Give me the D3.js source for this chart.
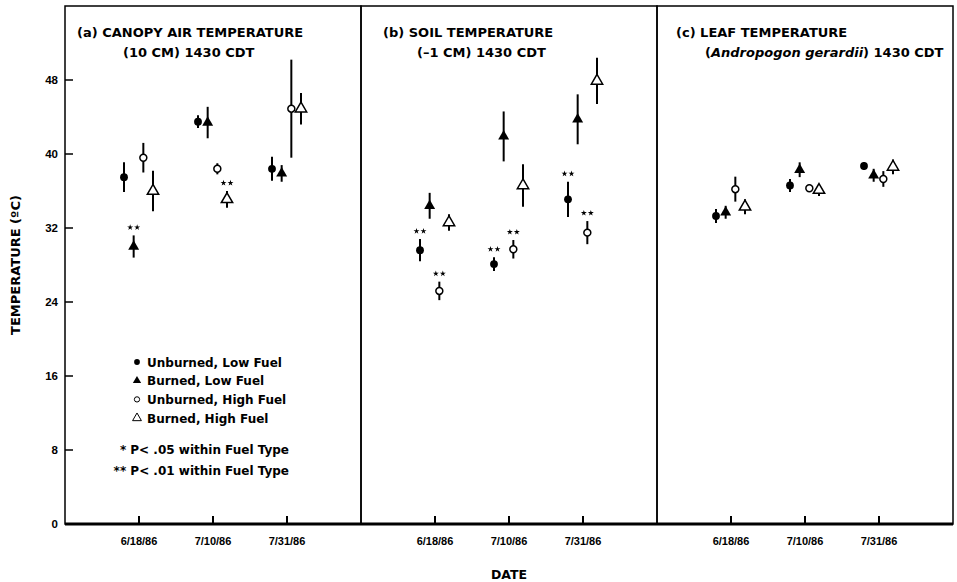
<!DOCTYPE html>
<meta charset="utf-8">
<style>

body {
  margin: 0;
  background: #fff;
}

text {
  font-family: "DejaVu Sans", sans-serif;
  font-weight: bold;
  fill: #000;
}

.tick-label {
  font-family: "Liberation Sans", Arial, sans-serif;
  font-size: 11px;
}

.frame {
  fill: none;
  stroke: #000;
  stroke-width: 1.5px;
}

.err {
  stroke: #000;
  stroke-width: 2px;
}

</style>
<svg width="957" height="582"></svg>
<script src="https://d3js.org/d3.v7.min.js"></script>
<script>

var dates = ["6/18/86", "7/10/86", "7/31/86"];
var series = ["Unburned, Low Fuel", "Burned, Low Fuel", "Unburned, High Fuel", "Burned, High Fuel"];
var yTicks = [0, 8, 16, 24, 32, 40, 48];

// means and error half-widths, one row per series, one column per date
var canopyMean = [[37.5, 43.5, 38.4], [30.0, 43.4, 37.9], [39.6, 38.4, 44.9], [36.0, 35.1, 44.9]];
var canopyErr  = [[1.6, 0.7, 1.3], [1.2, 1.7, 0.9], [1.6, 0.6, 5.3], [2.2, 0.9, 1.7]];
var soilMean   = [[29.6, 28.1, 35.1], [34.4, 41.9, 43.75], [25.2, 29.7, 31.5], [32.6, 36.6, 47.9]];
var soilErr    = [[1.2, 0.75, 1.9], [1.4, 2.7, 2.7], [1.0, 1.0, 1.25], [0.9, 2.3, 2.5]];
var leafMean   = [[33.3, 36.6, 38.7], [33.7, 38.3, 37.7], [36.2, 36.3, 37.3], [34.3, 36.1, 38.6]];
var leafErr    = [[0.75, 0.7, 0.4], [0.7, 0.8, 0.7], [1.35, 0.4, 0.85], [0.8, 0.65, 0.8]];

// [series, date] pairs marked ** (P < .01)
var canopySig = [[1, 0], [3, 1]];
var soilSig   = [[0, 0], [2, 0], [0, 1], [2, 1], [0, 2], [2, 2]];
var leafSig   = [];

var panels = [
  {title: ["(a) CANOPY AIR TEMPERATURE", "(10 CM) 1430 CDT"], mean: canopyMean, err: canopyErr, sig: canopySig},
  {title: ["(b) SOIL TEMPERATURE", "(\u20131 CM) 1430 CDT"], mean: soilMean, err: soilErr, sig: soilSig},
  {title: ["(c) LEAF TEMPERATURE", null], mean: leafMean, err: leafErr, sig: leafSig}
];
var titleIndent = [[12, 58], [22, 56], [19, 48]];

var svg = d3.select("svg"),
    x0 = 65,
    pw = 296,
    yTop = 6,
    yBottom = 524;

var y = d3.scaleLinear().domain([0, 56]).range([yBottom, yTop]);
var x = d3.scaleLinear().domain([0, 4]).range([0, pw]);
var offset = d3.scalePoint().domain(d3.range(series.length)).range([-15, 14]);

var filledCircle = d3.symbol().type(d3.symbolCircle).size(48),
    filledTri = d3.symbol().type(d3.symbolTriangle).size(52),
    openCircle = d3.symbol().type(d3.symbolCircle).size(38),
    openTri = d3.symbol().type(d3.symbolTriangle).size(56);
var shapes = [filledCircle, filledTri, openCircle, openTri];
var filled = [true, true, false, false];
var star = d3.symbol().type(d3.symbolStar).size(11);

panels.forEach(function(p, i) {
  var g = svg.append("g").attr("transform", "translate(" + (x0 + i * pw) + ",0)");

  g.append("rect")
      .attr("class", "frame")
      .attr("x", 0)
      .attr("y", yTop)
      .attr("width", pw)
      .attr("height", yBottom - yTop);

  // date ticks point up from the baseline
  g.selectAll(".xtick")
    .data(dates)
    .enter().append("line")
      .attr("x1", function(d, j) { return x(j + 1); })
      .attr("x2", function(d, j) { return x(j + 1); })
      .attr("y1", yBottom)
      .attr("y2", yBottom - 8)
      .attr("stroke", "#000")
      .attr("stroke-width", 2);

  g.selectAll(".xlab")
    .data(dates)
    .enter().append("text")
      .attr("class", "tick-label")
      .attr("x", function(d, j) { return x(j + 1); })
      .attr("y", 545)
      .attr("text-anchor", "middle")
      .text(function(d) { return d; });

  g.append("text")
      .attr("x", titleIndent[i][0])
      .attr("y", 37)
      .style("font-size", "13px")
      .text(p.title[0]);

  var t2 = g.append("text")
      .attr("x", titleIndent[i][1])
      .attr("y", 57)
      .style("font-size", "13px");
  if (p.title[1]) {
    t2.text(p.title[1]);
  } else {
    t2.append("tspan").text("(");
    t2.append("tspan").style("font-style", "italic").text("Andropogon gerardii");
    t2.append("tspan").text(") 1430 CDT");
  }

  var pts = [];
  p.mean.forEach(function(row, s) {
    row.forEach(function(v, j) {
      pts.push({s: s, d: j, v: v, e: p.err[s][j]});
    });
  });

  function px(d) { return x(d.d + 1) + offset(d.s); }

  g.selectAll(".err")
    .data(pts)
    .enter().append("line")
      .attr("class", "err")
      .attr("x1", px)
      .attr("x2", px)
      .attr("y1", function(d) { return y(d.v - d.e); })
      .attr("y2", function(d) { return y(d.v + d.e); });

  g.selectAll(".pt")
    .data(pts)
    .enter().append("path")
      .attr("transform", function(d) { return "translate(" + px(d) + "," + y(d.v) + ")"; })
      .attr("d", function(d) { return shapes[d.s](); })
      .attr("fill", function(d) { return filled[d.s] ? "#000" : "#fff"; })
      .attr("stroke", "#000")
      .attr("stroke-width", function(d) { return filled[d.s] ? 0 : 1.5; });

  // "**" marks sit just above the upper end of the error bar
  p.sig.forEach(function(d) {
    var sx = x(d[1] + 1) + offset(d[0]),
        sy = y(p.mean[d[0]][d[1]] + p.err[d[0]][d[1]]) - 8;
    [-3.5, 3.5].forEach(function(dx) {
      g.append("path")
          .attr("transform", "translate(" + (sx + dx) + "," + sy + ")")
          .attr("d", star())
          .attr("fill", "#000");
    });
  });
});

// thick baseline across all panels
svg.append("line")
    .attr("x1", x0)
    .attr("x2", x0 + 3 * pw)
    .attr("y1", yBottom)
    .attr("y2", yBottom)
    .attr("stroke", "#000")
    .attr("stroke-width", 3);

// temperature axis, ticks point inward
var gy = svg.append("g");
gy.selectAll("line")
  .data(yTicks.slice(1))
  .enter().append("line")
    .attr("x1", x0)
    .attr("x2", x0 + 8)
    .attr("y1", y)
    .attr("y2", y)
    .attr("stroke", "#000")
    .attr("stroke-width", 1.5);
gy.selectAll("text")
  .data(yTicks)
  .enter().append("text")
    .attr("class", "tick-label")
    .attr("x", 58)
    .attr("y", function(d) { return y(d) + 4; })
    .attr("text-anchor", "end")
    .style("font-size", "11.5px")
    .text(function(d) { return d; });

svg.append("text")
    .attr("transform", "translate(20," + ((yTop + yBottom) / 2) + ")rotate(-90)")
    .attr("text-anchor", "middle")
    .style("font-size", "13px")
    .text("TEMPERATURE (\u00baC)");

svg.append("text")
    .attr("x", x0 + pw * 1.5)
    .attr("y", 579)
    .attr("text-anchor", "middle")
    .style("font-size", "12.5px")
    .text("DATE");

// legend
var legend = svg.append("g");
var legendShapes = [
  d3.symbol().type(d3.symbolCircle).size(26),
  d3.symbol().type(d3.symbolTriangle).size(30),
  d3.symbol().type(d3.symbolCircle).size(22),
  d3.symbol().type(d3.symbolTriangle).size(34)
];
series.forEach(function(name, s) {
  var ly = 362 + s * 18.7;
  legend.append("path")
      .attr("transform", "translate(137," + ly + ")")
      .attr("d", legendShapes[s]())
      .attr("fill", filled[s] ? "#000" : "#fff")
      .attr("stroke", "#000")
      .attr("stroke-width", filled[s] ? 0 : 1);
  legend.append("text")
      .attr("x", 147)
      .attr("y", ly + 4.5)
      .style("font-size", "12px")
      .text(name);
});
["* P< .05 within Fuel Type", "** P< .01 within Fuel Type"].forEach(function(t, k) {
  legend.append("text")
      .attr("x", 289)
      .attr("y", 453.5 + k * 21.5)
      .attr("text-anchor", "end")
      .style("font-size", "12px")
      .text(t);
});

</script>
